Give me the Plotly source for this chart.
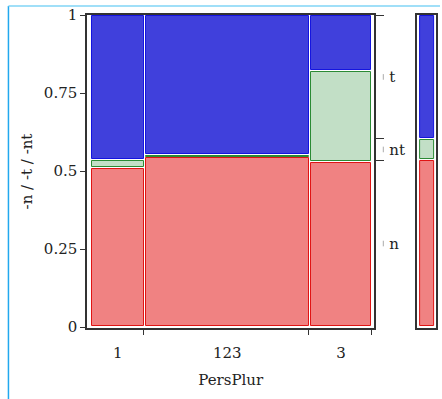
import plotly.graph_objects as go

# Columns of the spine / mosaic plot (PersPlur) and their relative widths
COLUMNS = ["1", "123", "3"]
COL_WIDTH = [0.188, 0.592, 0.220]

# Stacked levels, bottom to top
LEVELS = ["n", "nt", "t"]
SHARE_N = [0.511, 0.544, 0.530]
SHARE_NT = [0.025, 0.007, 0.290]
SHARE_T = [0.464, 0.449, 0.180]

# Overall (marginal) shares of each level
MARGIN_SHARE = [0.535, 0.068, 0.397]

FILL = {"n": "#f08282", "nt": "#c2dfc6", "t": "#4040dc"}
EDGE = {"n": "#e01414", "nt": "#2a8a34", "t": "#1414e0"}

FONT = "DejaVu Serif"
W, H = 442, 399
ML, MR, MT, MB = 87, 4, 15, 71
PW, PH = W - ML - MR, H - MT - MB

GAP = 0.0072          # horizontal gap between columns (data units)
Y_INSET = 0.0032      # vertical white gap on each side of a segment
X_RANGE = [-0.018, 1 + 2 * GAP + 0.0108]
Y_RANGE = [-0.0032, 1.0]

shares = {"n": SHARE_N, "nt": SHARE_NT, "t": SHARE_T}

# column geometry
starts, centers = [], []
pos = 0.0
for w in COL_WIDTH:
    starts.append(pos)
    centers.append(pos + w / 2)
    pos += w + GAP
ends = [s + w for s, w in zip(starts, COL_WIDTH)]

fig = go.Figure()

def seg(lo, hi):
    h = hi - lo
    ins = min(Y_INSET, h / 4)
    return lo + ins, h - 2 * ins

# main stacked columns
lows = [0.0] * len(COLUMNS)
for lev in LEVELS:
    bases, heights = [], []
    for i in range(len(COLUMNS)):
        b, h = seg(lows[i], lows[i] + shares[lev][i])
        bases.append(b)
        heights.append(h)
        lows[i] += shares[lev][i]
    fig.add_trace(go.Bar(
        x=centers, y=heights, base=bases, width=COL_WIDTH,
        marker=dict(color=FILL[lev], line=dict(color=EDGE[lev], width=1)),
        xaxis="x", yaxis="y", showlegend=False, hoverinfo="skip",
    ))

# marginal strip on the right
lo = 0.0
cum = []
mids = []
for lev, s in zip(LEVELS, MARGIN_SHARE):
    b, h = seg(lo, lo + s)
    fig.add_trace(go.Bar(
        x=[0.526], y=[h], base=[b], width=[0.737],
        marker=dict(color=FILL[lev], line=dict(color=EDGE[lev], width=1)),
        xaxis="x2", yaxis="y3", showlegend=False, hoverinfo="skip",
    ))
    mids.append(lo + s / 2)
    lo += s
    cum.append(lo)

# invisible trace so the right-hand level axis is drawn
fig.add_trace(go.Scatter(
    x=[centers[0]], y=[mids[0]], mode="markers", marker=dict(opacity=0),
    xaxis="x", yaxis="y2", showlegend=False, hoverinfo="skip",
))

tick_font = dict(family=FONT, size=15, color="#222222")
axis_line = dict(showline=True, linecolor="#333333", linewidth=1.5)

x_dom_end = (376 - ML) / PW
x2_dom = [(419 - ML) / PW, 1.0]

fig.update_layout(
    width=W, height=H,
    margin=dict(l=ML, r=MR, t=MT, b=MB),
    paper_bgcolor="white", plot_bgcolor="white",
    barmode="overlay", bargap=0,
    xaxis=dict(
        domain=[0, x_dom_end], range=X_RANGE, anchor="y",
        tickmode="array", tickvals=centers, ticktext=COLUMNS,
        ticks="", tickfont=tick_font, ticklabelstandoff=10,
        showgrid=False, zeroline=False,
        mirror=True, **axis_line,
        minor=dict(tickmode="array", tickvals=ends, ticks="outside",
                   ticklen=5, tickwidth=1, tickcolor="#333333", showgrid=False),
        title=dict(text="PersPlur", font=dict(family=FONT, size=15, color="#222222"),
                   standoff=14),
    ),
    yaxis=dict(
        domain=[0, 1], range=Y_RANGE, anchor="x",
        tickmode="array", tickvals=[0, 0.25, 0.5, 0.75, 1],
        ticktext=["0", "0.25", "0.5", "0.75", "1"],
        ticks="outside", ticklen=5, tickwidth=1, tickcolor="#333333",
        tickfont=tick_font, showgrid=False, zeroline=False,
        mirror=True, **axis_line,
        title=dict(text="-n / -t / -nt", font=dict(family=FONT, size=15, color="#222222"),
                   standoff=8),
    ),
    yaxis2=dict(
        overlaying="y", side="right", anchor="x", range=Y_RANGE,
        tickmode="array", tickvals=mids, ticktext=LEVELS,
        ticks="", tickfont=tick_font, ticklabelstandoff=14,
        showgrid=False, zeroline=False, showline=False,
        minor=dict(tickmode="array", tickvals=cum, ticks="outside",
                   ticklen=9, tickwidth=1, tickcolor="#333333", showgrid=False),
    ),
    xaxis2=dict(
        domain=x2_dom, range=[0, 1], anchor="y3",
        showticklabels=False, ticks="", showgrid=False, zeroline=False,
        mirror=True, **axis_line,
    ),
    yaxis3=dict(
        domain=[0, 1], range=Y_RANGE, anchor="x2",
        showticklabels=False, ticks="", showgrid=False, zeroline=False,
        mirror=True, **axis_line,
    ),
)

# small marks beside the level labels
mark_x = (385 - ML) / PW
for m in mids:
    fig.add_shape(type="line", xref="paper", yref="y",
                  x0=mark_x, x1=mark_x, y0=m - 0.009, y1=m + 0.009,
                  line=dict(color="#aaaaaa", width=1))

# page frame lines
px = lambda p: (p - ML) / PW
py = lambda p: (H - MB - p) / PH
fig.add_shape(type="line", xref="paper", yref="paper",
              x0=px(8), x1=px(8), y0=py(6), y1=py(H),
              line=dict(color="#22a8ee", width=1.5))
fig.add_shape(type="line", xref="paper", yref="paper",
              x0=px(8), x1=px(W), y0=py(6), y1=py(6),
              line=dict(color="#80d4f6", width=1.5))

fig.write_html("out.html")
